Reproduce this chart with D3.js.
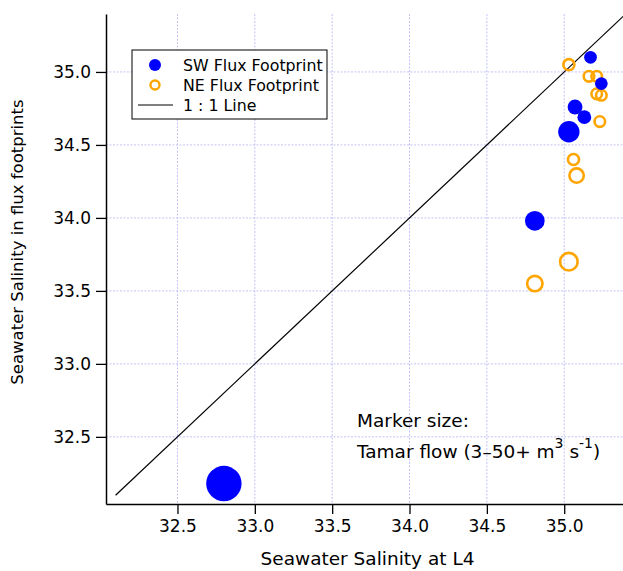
<!DOCTYPE html>
<html>
<head>
<meta charset="utf-8">
<script src="https://cdn.jsdelivr.net/npm/d3@7"></script>
<style>
  body { margin: 0; background: #fff; }
  text { font-family: "DejaVu Sans", Verdana, sans-serif; }
</style>
</head>
<body>
<script>
// salinity at L4, salinity in footprint, Tamar flow (m3/s)
var sw_l4   = [32.80, 34.81, 35.03, 35.07, 35.13, 35.17, 35.24];
var sw_fp   = [32.18, 33.98, 34.59, 34.76, 34.69, 35.10, 34.92];
var sw_flow = [50, 21, 24, 12, 10, 8, 8];

var ne_l4   = [34.81, 35.03, 35.08, 35.06, 35.03, 35.16, 35.21, 35.21, 35.24, 35.23];
var ne_fp   = [33.55, 33.70, 34.29, 34.40, 35.05, 34.97, 34.97, 34.85, 34.84, 34.66];
var ne_flow = [13, 17, 11, 5, 5, 4, 4, 4, 4, 4];

var ticks = [32.5, 33.0, 33.5, 34.0, 34.5, 35.0];
var one_to_one = [32.1, 35.4];

var width = 623, height = 571,
    plot_l = 106, plot_r = 623, plot_t = 14, plot_b = 504;

var x_scale = d3.scaleLinear().domain([32.038, 35.38]).range([plot_l, plot_r]);
var y_scale = d3.scaleLinear().domain([32.04, 35.397]).range([plot_b, plot_t]);
var r_scale = d3.scaleLinear().domain([3, 50]).range([5, 17.7]);

var svg = d3.select("body").append("svg")
    .attr("width", width)
    .attr("height", height);

svg.append("defs").append("clipPath").attr("id", "plot")
  .append("rect")
    .attr("x", plot_l).attr("y", plot_t)
    .attr("width", plot_r - plot_l).attr("height", plot_b - plot_t);

// grid
var grid = svg.append("g").attr("class", "grid")
    .attr("stroke", "#c2c2f6").attr("stroke-width", 1).attr("stroke-dasharray", "2,1.5");
grid.selectAll(".gx").data(ticks).enter().append("line")
    .attr("x1", function(d){return x_scale(d)}).attr("x2", function(d){return x_scale(d)})
    .attr("y1", plot_t).attr("y2", plot_b);
grid.selectAll(".gy").data(ticks).enter().append("line")
    .attr("y1", function(d){return y_scale(d)}).attr("y2", function(d){return y_scale(d)})
    .attr("x1", plot_l).attr("x2", plot_r);

// 1:1 line
svg.append("line")
    .attr("clip-path", "url(#plot)")
    .attr("x1", x_scale(one_to_one[0])).attr("y1", y_scale(one_to_one[0]))
    .attr("x2", x_scale(one_to_one[1])).attr("y2", y_scale(one_to_one[1]))
    .attr("stroke", "#000").attr("stroke-width", 1.2);

// NE points (open)
svg.append("g").selectAll("circle")
  .data(ne_l4).enter().append("circle")
    .attr("cx", function(d){return x_scale(d)})
    .attr("cy", function(d, i){return y_scale(ne_fp[i])})
    .attr("r", function(d, i){return r_scale(ne_flow[i])})
    .attr("fill", "none")
    .attr("stroke", "#ffa500")
    .attr("stroke-width", 2.6);

// SW points (filled)
svg.append("g").selectAll("circle")
  .data(sw_l4).enter().append("circle")
    .attr("cx", function(d){return x_scale(d)})
    .attr("cy", function(d, i){return y_scale(sw_fp[i])})
    .attr("r", function(d, i){return r_scale(sw_flow[i])})
    .attr("fill", "#0000ff");

// axes
var x_axis = d3.axisBottom(x_scale).tickValues(ticks).tickFormat(d3.format(".1f")).tickSize(10).tickSizeOuter(0).tickPadding(6);
var y_axis = d3.axisLeft(y_scale).tickValues(ticks).tickFormat(d3.format(".1f")).tickSize(10).tickSizeOuter(0).tickPadding(5);

var gx = svg.append("g")
    .attr("transform", "translate(0," + plot_b + ")")
    .call(x_axis);
var gy = svg.append("g")
    .attr("transform", "translate(" + plot_l + ",0)")
    .call(y_axis);

[gx, gy].forEach(function(g){
  g.select(".domain").attr("stroke-width", 1.5);
  g.selectAll(".tick line").attr("stroke-width", 1.3);
  g.selectAll(".tick text").attr("font-size", 17).attr("font-family", "DejaVu Sans").attr("fill", "#000");
});

svg.append("text")
    .attr("x", (plot_l + plot_r) / 2 + 3).attr("y", 565)
    .attr("text-anchor", "middle").attr("font-size", 18.5)
    .text("Seawater Salinity at L4");

svg.append("text")
    .attr("transform", "translate(23,242) rotate(-90)")
    .attr("text-anchor", "middle").attr("font-size", 16.5)
    .text("Seawater Salinity in flux footprints");

// legend
var lg = svg.append("g");
lg.append("rect")
    .attr("x", 132).attr("y", 50).attr("width", 195).attr("height", 69)
    .attr("fill", "#fff").attr("stroke", "#000").attr("stroke-width", 1);
lg.append("circle").attr("cx", 155).attr("cy", 65).attr("r", 6).attr("fill", "#0000ff");
lg.append("circle").attr("cx", 155).attr("cy", 85).attr("r", 4.5)
    .attr("fill", "none").attr("stroke", "#ffa500").attr("stroke-width", 2.4);
lg.append("line").attr("x1", 138).attr("x2", 173).attr("y1", 105).attr("y2", 105)
    .attr("stroke", "#000").attr("stroke-width", 1.2);
var legend_labels = ["SW Flux Footprint", "NE Flux Footprint", "1 : 1 Line"];
lg.selectAll(".lt").data(legend_labels).enter().append("text")
    .attr("x", 183)
    .attr("y", function(d, i){return 71 + i * 20})
    .attr("font-size", 15.8)
    .text(function(d){return d});

// annotation
svg.append("text")
    .attr("x", 357).attr("y", 427).attr("font-size", 18.5)
    .text("Marker size:");
var ann = svg.append("text")
    .attr("x", 357).attr("y", 458).attr("font-size", 18.5);
ann.append("tspan").text("Tamar flow (3\u201350+ m");
ann.append("tspan").attr("dy", -10).attr("font-size", 14).text("3");
ann.append("tspan").attr("dy", 10).text(" s");
ann.append("tspan").attr("dy", -10).attr("font-size", 14).text("-1");
ann.append("tspan").attr("dy", 10).text(")");
</script>
</body>
</html>
